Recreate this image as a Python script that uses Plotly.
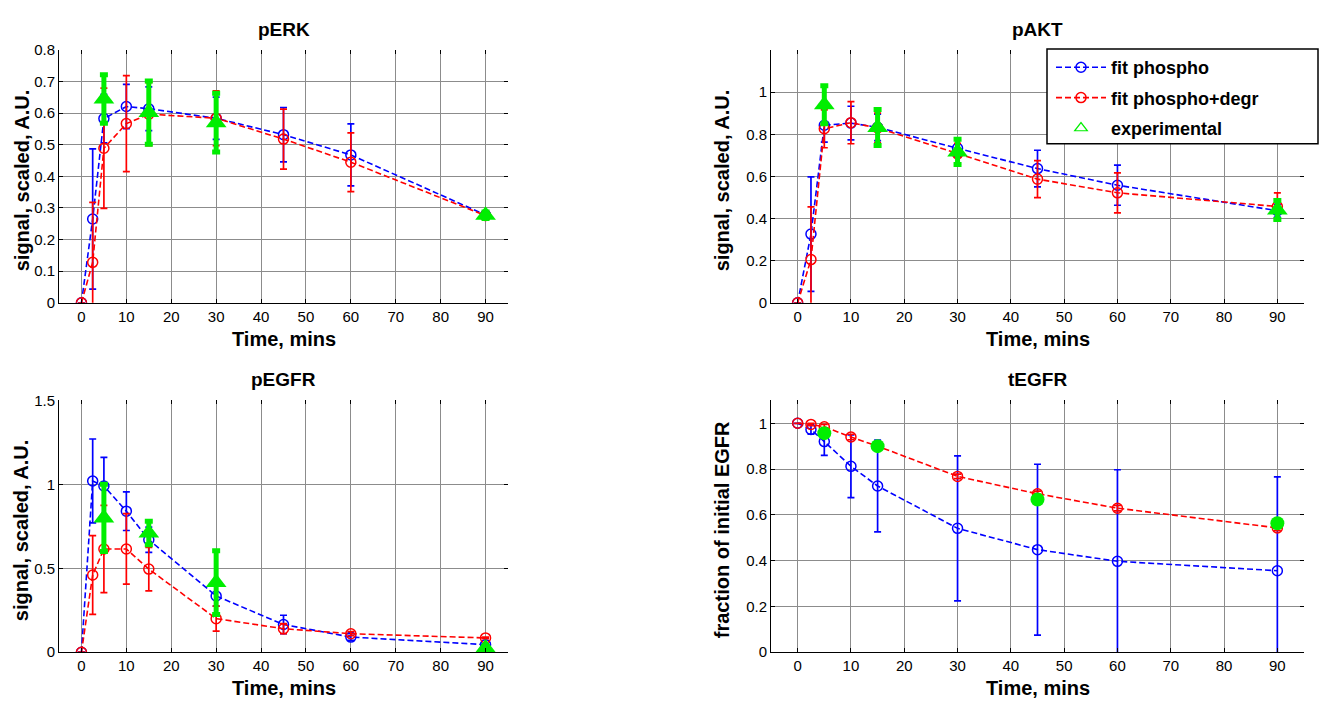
import plotly.graph_objects as go

# ---- data -------------------------------------------------------------
t = [0, 2.5, 5, 10, 15, 30, 45, 60, 90]
t_exp = [5, 15, 30, 90]
t_exp_tegfr = [5, 15, 45, 90]

erk_fit = [0, 0.265, 0.583, 0.621, 0.614, 0.584, 0.532, 0.468, 0.278]
erk_fit_err = [0, 0.222, 0.077, 0.07, 0.069, 0.067, 0.086, 0.098, 0.0]
erk_deg = [0, 0.128, 0.489, 0.567, 0.597, 0.584, 0.518, 0.445, 0.276]
erk_deg_err = [0, 0.19, 0.19, 0.152, 0.1, 0.087, 0.095, 0.093, 0.0]
erk_exp = [0.645, 0.602, 0.57, 0.277]
erk_exp_err = [0.077, 0.1, 0.093, 0.01]

akt_fit = [0, 0.326, 0.843, 0.853, 0.833, 0.733, 0.637, 0.558, 0.437]
akt_fit_err = [0, 0.272, 0.08, 0.08, 0.063, 0.04, 0.087, 0.095, 0.03]
akt_deg = [0, 0.205, 0.826, 0.855, 0.83, 0.707, 0.587, 0.522, 0.457]
akt_deg_err = [0, 0.25, 0.09, 0.1, 0.07, 0.05, 0.088, 0.095, 0.065]
akt_exp = [0.94, 0.832, 0.716, 0.44]
akt_exp_err = [0.09, 0.085, 0.06, 0.045]

egfr_fit = [0, 1.02, 0.99, 0.84, 0.67, 0.335, 0.165, 0.09, 0.045]
egfr_fit_err = [0, 0.25, 0.17, 0.115, 0.075, 0.06, 0.055, 0.02, 0.005]
egfr_deg = [0, 0.46, 0.615, 0.615, 0.495, 0.2, 0.14, 0.11, 0.085]
egfr_deg_err = [0, 0.235, 0.26, 0.21, 0.13, 0.075, 0.03, 0.012, 0.005]
egfr_exp = [0.8, 0.71, 0.415, 0.025]
egfr_exp_err = [0.2, 0.07, 0.19, 0.01]

tegfr_fit = [1, 0.973, 0.92, 0.812, 0.726, 0.541, 0.448, 0.397, 0.356]
tegfr_fit_err = [0, 0.02, 0.06, 0.137, 0.2, 0.317, 0.373, 0.4, 0.41]
tegfr_deg = [1, 0.995, 0.985, 0.94, 0.9, 0.768, 0.692, 0.629, 0.543]
tegfr_deg_err = [0, 0.005, 0.01, 0.012, 0.01, 0.01, 0.012, 0.012, 0.012]
tegfr_exp = [0.957, 0.9, 0.667, 0.563]

x_ticks = [0, 10, 20, 30, 40, 50, 60, 70, 80, 90]

panels = [
    dict(title="pERK", ylabel="signal, scaled, A.U.", yrange=[0, 0.8],
         yticks=[0, 0.1, 0.2, 0.3, 0.4, 0.5, 0.6, 0.7, 0.8],
         fit=(erk_fit, erk_fit_err), deg=(erk_deg, erk_deg_err),
         exp=(t_exp, erk_exp, erk_exp_err, "triangle-up")),
    dict(title="pAKT", ylabel="signal, scaled, A.U.", yrange=[0, 1.2],
         yticks=[0, 0.2, 0.4, 0.6, 0.8, 1],
         fit=(akt_fit, akt_fit_err), deg=(akt_deg, akt_deg_err),
         exp=(t_exp, akt_exp, akt_exp_err, "triangle-up")),
    dict(title="pEGFR", ylabel="signal, scaled, A.U.", yrange=[0, 1.5],
         yticks=[0, 0.5, 1, 1.5],
         fit=(egfr_fit, egfr_fit_err), deg=(egfr_deg, egfr_deg_err),
         exp=(t_exp, egfr_exp, egfr_exp_err, "triangle-up")),
    dict(title="tEGFR", ylabel="fraction of initial EGFR", yrange=[0, 1.1],
         yticks=[0, 0.2, 0.4, 0.6, 0.8, 1],
         fit=(tegfr_fit, tegfr_fit_err), deg=(tegfr_deg, tegfr_deg_err),
         exp=(t_exp_tegfr, tegfr_exp, None, "circle")),
]

# ---- layout geometry (pixels of a 1320x709 canvas) -----------------------
W, H = 1320, 709
BLUE, RED, GREEN = "#0000FF", "#FF0000", "#00EE00"
FONT = "Liberation Sans, Arial, Helvetica, sans-serif"
GRID = "#8c8c8c"

def px(x):
    return x / W

def py(y):
    return 1 - y / H

# (left, right, top, bottom) of each plot area
boxes = [(59, 508, 42, 301), (771, 1304, 42, 301),
         (59, 508, 401, 659), (771, 1304, 401, 659)]
ylabel_x = [22, 722, 21, 722]

fig = go.Figure()
layout = dict(width=W, height=H, margin=dict(l=0, r=0, t=0, b=0),
              paper_bgcolor="white", plot_bgcolor="white",
              font=dict(family=FONT, color="black", size=15),
              showlegend=True, annotations=[], shapes=[])

dash = "6px,3px"

for i, p in enumerate(panels):
    n = i + 1
    xa, ya = ("x" if n == 1 else f"x{n}"), ("y" if n == 1 else f"y{n}")
    l, r, tp, b = boxes[i]
    axis_common = dict(ticks="inside", ticklen=4, tickcolor="black",
                       showline=True, linecolor="black", linewidth=1,
                       showgrid=True, gridcolor=GRID, gridwidth=1,
                       zeroline=False, tickfont=dict(size=15, family=FONT))
    layout[f"xaxis{'' if n == 1 else n}"] = dict(
        domain=[px(l), px(r)], anchor=ya, range=[-5, 95],
        tickvals=x_ticks, **axis_common)
    layout[f"yaxis{'' if n == 1 else n}"] = dict(
        domain=[py(b), py(tp)], anchor=xa, range=p["yrange"],
        tickvals=p["yticks"], **axis_common)
    # mirrored tick marks on top / right edges (no line)
    m = n + 4
    layout[f"xaxis{m}"] = dict(overlaying=xa, side="top", anchor=ya,
                               range=[-5, 95], tickvals=x_ticks,
                               ticks="inside", ticklen=4, tickcolor="black",
                               showticklabels=False, showgrid=False,
                               showline=False, zeroline=False)
    layout[f"yaxis{m}"] = dict(overlaying=ya, side="right", anchor=xa,
                               range=p["yrange"], tickvals=p["yticks"],
                               ticks="inside", ticklen=4, tickcolor="black",
                               showticklabels=False, showgrid=False,
                               showline=False, zeroline=False)
    fig.add_trace(go.Scatter(x=[None], y=[None], xaxis=f"x{m}", yaxis=f"y{m}",
                             showlegend=False, hoverinfo="skip"))

    show = (n == 2)
    fy, fe = p["fit"]
    fig.add_trace(go.Scatter(
        x=t, y=fy, xaxis=xa, yaxis=ya, mode="lines+markers",
        name="<b>fit phospho</b>", legendgroup="a", showlegend=show,
        line=dict(color=BLUE, width=1.6, dash=dash),
        marker=dict(symbol="circle-open", size=10, color=BLUE,
                    line=dict(width=1.5, color=BLUE)),
        error_y=dict(type="data", array=fe, visible=True, color=BLUE,
                     thickness=1.7, width=3.5)))
    dy, de = p["deg"]
    fig.add_trace(go.Scatter(
        x=t, y=dy, xaxis=xa, yaxis=ya, mode="lines+markers",
        name="<b>fit phospho+degr</b>", legendgroup="b", showlegend=show,
        line=dict(color=RED, width=1.6, dash=dash),
        marker=dict(symbol="circle-open", size=10, color=RED,
                    line=dict(width=1.5, color=RED)),
        error_y=dict(type="data", array=de, visible=True, color=RED,
                     thickness=1.7, width=3.5)))
    ex, ey, ee, sym = p["exp"]
    err = None
    if ee is not None:
        err = dict(type="data", array=ee, visible=True, color=GREEN,
                   thickness=5, width=4)
    fig.add_trace(go.Scatter(
        x=ex, y=ey, xaxis=xa, yaxis=ya, mode="markers", showlegend=False,
        marker=dict(symbol=sym, size=18 if sym != "circle" else 14,
                    color=GREEN, line=dict(width=0)),
        error_y=err))

    # panel title and axis labels
    cx = px((l + r) / 2)
    layout["annotations"].append(dict(
        text=f"<b>{p['title']}</b>", x=cx, y=py(tp - 21), xref="paper",
        yref="paper", showarrow=False, font=dict(size=19, family=FONT),
        xanchor="center", yanchor="middle"))
    layout["annotations"].append(dict(
        text="<b>Time, mins</b>", x=cx, y=py(b + 37), xref="paper",
        yref="paper", showarrow=False, font=dict(size=20, family=FONT),
        xanchor="center", yanchor="middle"))
    layout["annotations"].append(dict(
        text=f"<b>{p['ylabel']}</b>", x=px(ylabel_x[i]),
        y=py((tp + b) / 2 + 4), xref="paper", yref="paper",
        showarrow=False, textangle=-90, font=dict(size=20, family=FONT),
        xanchor="center", yanchor="middle"))

# legend entry for the experimental points
fig.add_trace(go.Scatter(
    x=[None], y=[None], xaxis="x2", yaxis="y2", mode="markers",
    name="<b>experimental</b>", legendgroup="c",
    marker=dict(symbol="triangle-up-open", size=11, color=GREEN,
                line=dict(width=1.2, color=GREEN))))

# legend frame
layout["shapes"].append(dict(
    type="rect", xref="paper", yref="paper", layer="above",
    x0=px(1047), x1=px(1318), y0=py(138), y1=py(41),
    fillcolor="white", line=dict(color="black", width=1.5)))

layout["legend"] = dict(
    x=px(1051), y=py(41), xanchor="left", yanchor="top",
    bgcolor="rgba(0,0,0,0)", borderwidth=0, itemwidth=50,
    traceorder="grouped", tracegroupgap=4,
    font=dict(size=18, family=FONT, color="black"))

fig.update_layout(**layout)
fig.write_html("out.html")
